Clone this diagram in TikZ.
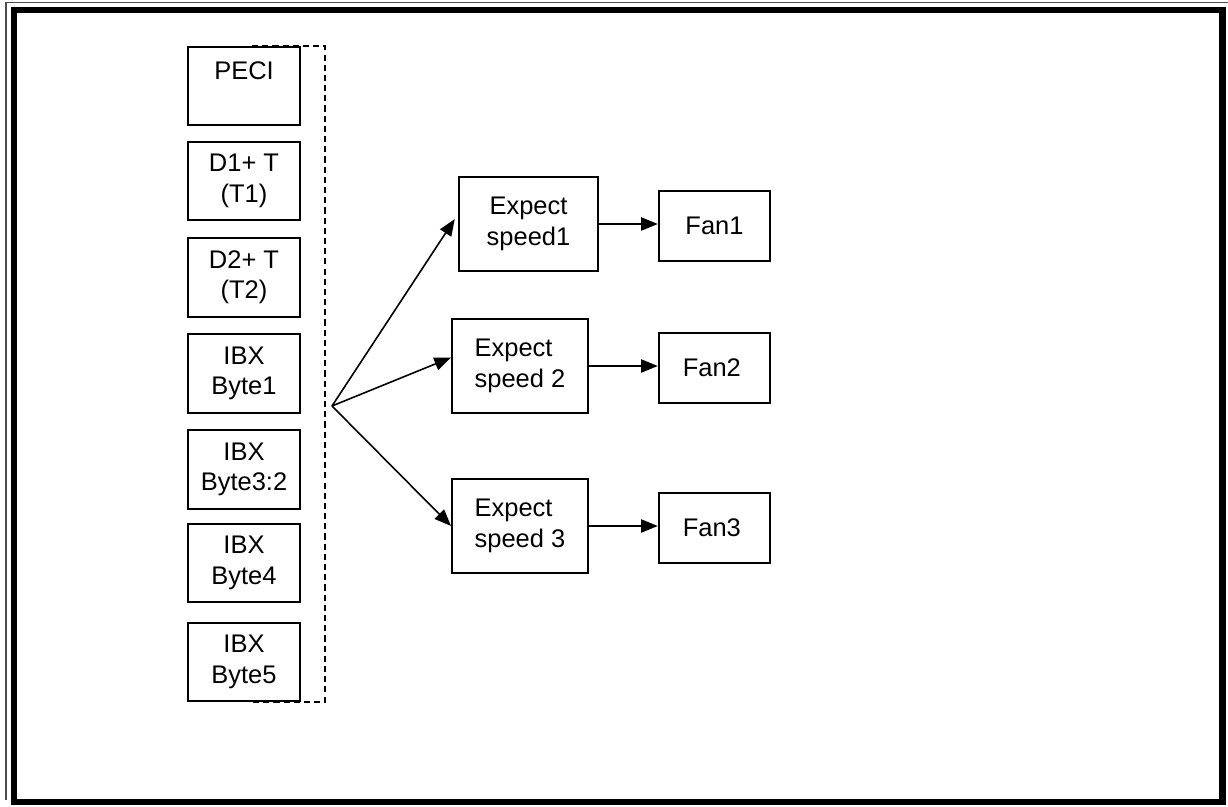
\documentclass[tikz,border=0pt]{standalone}
\usepackage{fontspec}
\setmainfont{Liberation Sans}
\usetikzlibrary{arrows.meta}

\begin{document}
\begin{tikzpicture}[x=0.02cm,y=-0.02cm,
  >={Triangle[length=9.5pt,width=7.5pt]},
  box/.style={shape=rectangle,draw,line width=1.1pt,align=center,inner sep=2pt,
    font=\fontsize{14.5pt}{17.3pt}\selectfont},
  inbox/.style={box,minimum width=2.23cm,minimum height=1.57cm},
  fanbox/.style={box,minimum width=2.23cm,minimum height=1.4cm},
  arr/.style={->,line width=0.9pt}]
\useasboundingbox (0,0) rectangle (1228,807);
% page frame
\draw [line width=0.6pt,black!70] (1228,2.5) -- (6,2.5) -- (6,800);
\draw [line width=3.7pt] (14,10) rectangle (1222.5,802);

% temperature inputs
\path (244,86) node (peci) [inbox] {PECI\\~};
\path (244,181) node (tone) [inbox] {D1+ T\\(T1)};
\path (244,277.5) node (ttwo) [inbox] {D2+ T\\(T2)};
\path (244,373.5) node (byteone) [inbox] {IBX\\Byte1};
\path (244,469.5) node (bytethree) [inbox] {IBX\\Byte3:2};
\path (244,563) node (bytefour) [inbox] {IBX\\Byte4};
\path (244,662) node (bytefive) [inbox] {IBX\\Byte5};
\draw [line width=1pt,dash pattern=on 3.5pt off 2.3pt] (252,46) -| (325,702) -- (252,702);

% expected speeds and fans
\path (528.5,224) node (expone) [box,minimum width=2.78cm,minimum height=1.88cm] {Expect\\speed1};
\path (520,366) node (exptwo) [box,minimum width=2.72cm,minimum height=1.88cm,align=left] {Expect\\speed 2};
\path (520,526) node (expthree) [box,minimum width=2.72cm,minimum height=1.88cm,align=left] {Expect\\speed 3};
\path (714.5,226) node (fanone) [fanbox] {Fan1};
\path (714.5,368) node (fantwo) [fanbox] {Fan2\hspace{3pt}};
\path (714.5,528) node (fanthree) [fanbox] {Fan3\hspace{3pt}};

\coordinate (split) at (332,406);
\draw [arr,shorten >=3.4pt] (split) to (expone.172);
\draw [arr] (split) to (exptwo.173);
\draw [arr] (split) to (expthree.west);
\draw [arr] (expone.east) to (expone.east -| fanone.west);
\draw [arr] (exptwo.east) to (exptwo.east -| fantwo.west);
\draw [arr] (expthree.east) to (expthree.east -| fanthree.west);
\end{tikzpicture}
\end{document}
